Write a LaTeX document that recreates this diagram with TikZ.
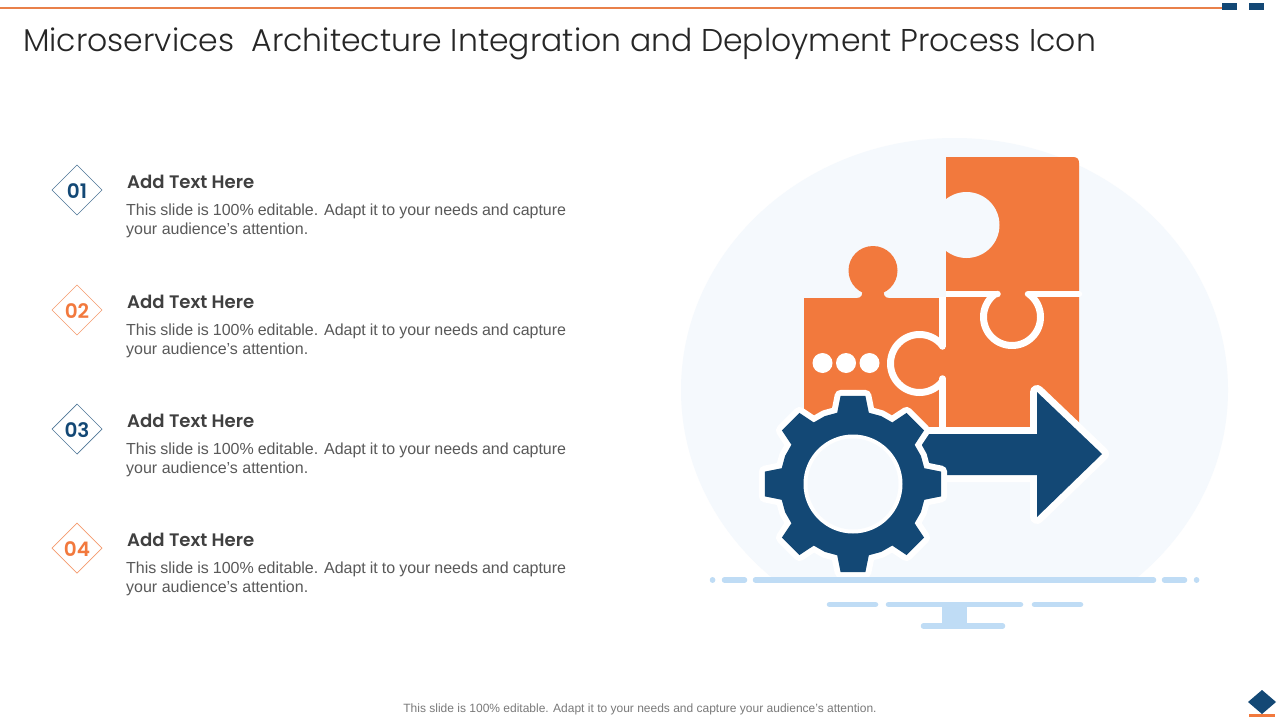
\documentclass[tikz,border=0pt]{standalone}
\usepackage{fontspec}
\setmainfont{Liberation Sans}
\newfontfamily\titlefont[UprightFont={* Light}]{Poppins}
\newfontfamily\headfont[UprightFont={* SemiBold}]{Poppins}
\definecolor{ora}{HTML}{F2793D}
\definecolor{blu}{HTML}{134875}
\definecolor{bgc}{HTML}{F5F9FD}
\definecolor{lbl}{HTML}{BFDCF5}
\definecolor{headc}{HTML}{404040}
\definecolor{titlec}{HTML}{262626}
\definecolor{bodyc}{HTML}{595959}
\definecolor{footc}{HTML}{7A7A7A}
\definecolor{rulec}{HTML}{E9804A}
\tikzset{
  x=1pt,y=-1pt,
  basebar/.style={line width=5.5pt,line cap=round,draw=lbl},
  gapline/.style={line width=6.5pt,line cap=round,draw=white},
  dia/.style={draw=#1!75!white,line width=0.7pt,fill=white},
  numtext/.style={text=#1,font=\headfont\fontsize{20}{20}\selectfont,anchor=center,inner sep=0pt},
  headtext/.style={text=headc,font=\headfont\fontsize{18.1}{18.1}\selectfont,anchor=base west,inner sep=0pt},
  bodytext/.style={text=bodyc,font=\fontsize{16}{19}\selectfont,anchor=north west,inner sep=0pt,text width=440pt,align=justify},
}
\newcommand{\itemrow}[4]{%
  \draw[dia=#2] (77,#1-25) -- (102,#1) -- (77,#1+25) -- (52,#1) -- cycle;
  \node[numtext=#2] (num#3) at (77,#1+0.7) {#3};
  \node[headtext] (head#3) at (127,#1-2) {Add Text Here};
  \node[bodytext] (body#3) at (126,#1+13.5) {This slide is 100\% editable. Adapt it to your needs and capture your audience's attention.};
}
\begin{document}
\begin{tikzpicture}
\useasboundingbox (0,0) rectangle (1280,720);
\fill[white] (0,0) rectangle (1280,720);
% top rule
\fill[rulec] (0,7) rectangle (1222,8.5);
\fill[blu] (1222,3) rectangle (1237,10);
\fill[blu] (1249,3) rectangle (1264,10);
% bottom-right mark
\fill[blu] (1262,690) -- (1276,702) -- (1262,714) -- (1248,702) -- cycle;
\fill[ora] (1249,714) rectangle (1275,717);
% title and footer
\node[anchor=base west,inner sep=0pt,text=titlec,font=\titlefont\fontsize{31.5}{31.5}\selectfont] (title) at (23,51.5) {Microservices\ \ Architecture Integration and Deployment Process Icon};
\node[anchor=center,inner sep=0pt,text=footc,font=\fontsize{12}{12}\selectfont] (foot) at (640,709) {This slide is 100\% editable. Adapt it to your needs and capture your audience's attention.};
% rows
\itemrow{190}{blu}{01}{}
\itemrow{310}{ora}{02}{}
\itemrow{429}{blu}{03}{}
\itemrow{548}{ora}{04}{}
% background ellipse
\begin{scope}
\clip (600,100) rectangle (1280,578);
\fill[bgc] (954.5,390) ellipse [x radius=273.5,y radius=252];
\end{scope}
% puzzle pieces
\fill[ora] (946,297) -- (946,157) -- (1073,157) .. controls (1077,157) and (1079,159) .. (1079,163) -- (1079,428) -- (946,428) -- cycle;
\fill[bgc] (966.5,225) circle [radius=33];
\fill[ora] (804,297.5) rectangle (946,432);
\fill[ora] (873,270.5) circle [radius=24.5];
\fill[ora] (857,298) .. controls (862,298) and (863,294) .. (862,288) -- (884,288) .. controls (883,294) and (884,298) .. (889,298) -- cycle;
\fill[white] (822.5,363) circle [radius=10];
\fill[white] (846,363) circle [radius=10];
\fill[white] (869.5,363) circle [radius=10];
% gaps between pieces
\draw[gapline,line cap=butt] (946,294) -- (997.5,294);
\fill[white] (997.5,294) circle [radius=3.25];
\draw[gapline] (1028,294) -- (1079,294);
\fill[white] (1079,290.75) rectangle (1080,297.25);
\draw[line width=7pt,white] plot[domain=-54:234,samples=70] ({1012+28.5*cos(\x)},{317+28.5*sin(\x)});
\draw[gapline,line cap=butt] (942.5,297) -- (942.5,346.5);
\fill[white] (942.5,346.5) circle [radius=3.25];
\draw[gapline] (942.5,378.5) -- (942.5,432);
\draw[line width=7pt,white] plot[domain=36:324,samples=60] ({919.5+29*cos(\x)},{363.5+29*sin(\x)});
% arrow
\path[fill=blu,preaction={draw=white,line width=14pt,line join=round},line join=round] (900,434) -- (1037,434) -- (1037,392) -- (1102,454) -- (1037,517) -- (1037,475) -- (900,475) -- cycle;
% gear
\begin{scope}[shift={(853,484)}]
\path[fill=blu,preaction={draw=white,line width=12pt,line join=round}]
  (-12.5:73) \foreach \a in {0,45,...,315}{ -- (\a-12.5:73) -- (\a-8:89) -- (\a+8:89) -- (\a+12.5:73) -- (\a+22.5:73.5) } -- cycle;
\fill[white] (0,0) circle [radius=49.5];
\fill[bgc] (0,0) circle [radius=45.5];
\end{scope}
% base
\draw[basebar] (712.5,580) -- (712.6,580);
\draw[basebar] (724.5,580) -- (744.5,580);
\draw[basebar] (755.5,580) -- (1153.5,580);
\draw[basebar] (1164.5,580) -- (1184.5,580);
\draw[basebar] (1196.5,580) -- (1196.6,580);
\draw[basebar] (829.5,604.5) -- (875.5,604.5);
\draw[basebar] (888.5,604.5) -- (1020.5,604.5);
\draw[basebar] (1034.5,604.5) -- (1080.5,604.5);
\fill[lbl] (942,606) rectangle (967,626);
\draw[basebar] (923.5,626) -- (1002.5,626);
\end{tikzpicture}
\end{document}
